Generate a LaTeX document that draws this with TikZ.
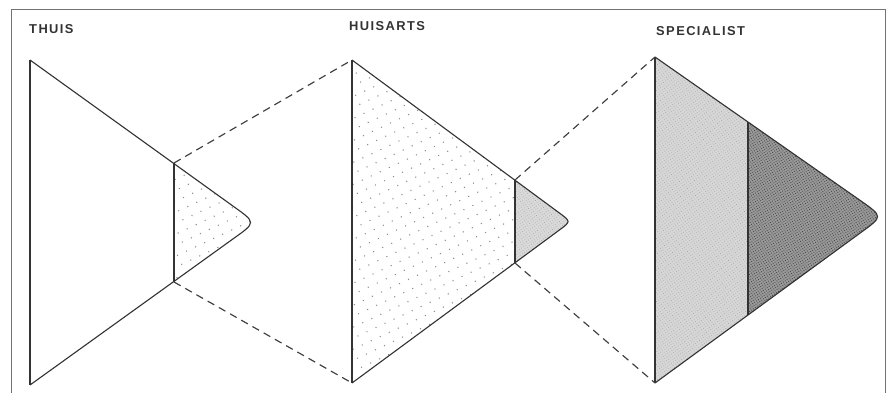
\documentclass[tikz,border=0pt]{standalone}
\usepackage{fontspec}
\setmainfont{Liberation Sans}
\usetikzlibrary{patterns.meta}

\begin{document}
\begin{tikzpicture}[x=0.03cm, y=-0.03cm,
    frame/.style={draw=black!55, line width=0.8pt},
    edge/.style={draw=black!80, line width=0.95pt, line join=round},
    cut/.style={draw=black!80, line width=1.4pt},
    link/.style={draw=black!75, line width=1pt, dash pattern=on 6.5pt off 4.5pt},
    sparse/.style={pattern={Dots[radius=0.65pt, distance=8.5pt, angle=25]}, pattern color=black!45},
    fine/.style={pattern={Dots[radius=0.4pt, distance=2.2pt, angle=35]}, pattern color=black!35},
    coarse/.style={pattern={Dots[radius=0.55pt, distance=2pt, angle=35]}, pattern color=black!70},
    title/.style={anchor=base west, inner sep=0pt, text=black!80,
                  font=\fontsize{11}{12}\selectfont\bfseries\addfontfeatures{LetterSpace=11}}
]

\useasboundingbox (0,0) rectangle (890,393);
\draw[frame] (11,393) |- (885,9) -- (885,393);

% corner points of the three triangles
\coordinate (t1) at (30,60);   \coordinate (b1) at (30,385);
\coordinate (ct1) at (174,163); \coordinate (cb1) at (174,282);
\coordinate (p1) at (234,206.8); \coordinate (q1) at (234,238.2);
\coordinate (tip1) at (256,222.5);

\coordinate (t2) at (352,60);   \coordinate (b2) at (352,383);
\coordinate (ct2) at (515,180); \coordinate (cb2) at (515,263);
\coordinate (p2) at (559,212.7); \coordinate (q2) at (559,230.3);
\coordinate (tip2) at (571,221.5);

\coordinate (t3) at (655,57);   \coordinate (b3) at (655,383);
\coordinate (ct3) at (748,122); \coordinate (cb3) at (748,315);
\coordinate (p3) at (861,201);  \coordinate (q3) at (861,232.4);
\coordinate (tip3) at (883,216.5);

% fillings
\fill[sparse] (ct1) -- (p1) .. controls (tip1) .. (q1) -- (cb1) -- cycle;
\fill[sparse] (t2) -- (ct2) -- (cb2) -- (b2) -- cycle;
\fill[black!15] (ct2) -- (p2) .. controls (tip2) .. (q2) -- (cb2) -- cycle;
\fill[fine] (ct2) -- (p2) .. controls (tip2) .. (q2) -- (cb2) -- cycle;
\fill[black!16] (t3) -- (ct3) -- (cb3) -- (b3) -- cycle;
\fill[fine] (t3) -- (ct3) -- (cb3) -- (b3) -- cycle;
\fill[black!40] (ct3) -- (p3) .. controls (tip3) .. (q3) -- (cb3) -- cycle;
\fill[coarse] (ct3) -- (p3) .. controls (tip3) .. (q3) -- (cb3) -- cycle;

% outlines
\draw[edge] (t1) -- (p1) .. controls (tip1) .. (q1) -- (b1);
\draw[edge] (t2) -- (p2) .. controls (tip2) .. (q2) -- (b2);
\draw[edge] (t3) -- (p3) .. controls (tip3) .. (q3) -- (b3);
\draw[cut] (t1) -- (b1);  \draw[cut] (ct1) -- (cb1);
\draw[cut] (t2) -- (b2);  \draw[cut] (ct2) -- (cb2);
\draw[cut] (t3) -- (b3);  \draw[cut] (ct3) -- (cb3);

% dashed links
\draw[link] (ct1) -- (t2);
\draw[link] (cb1) -- (b2);
\draw[link] (ct2) -- (t3);
\draw[link] (cb2) -- (b3);

\node[title] (thuis) at (29,33) {THUIS};
\node[title] (huisarts) at (349,30) {HUISARTS};
\node[title] (specialist) at (656,35) {SPECIALIST};

\end{tikzpicture}
\end{document}
